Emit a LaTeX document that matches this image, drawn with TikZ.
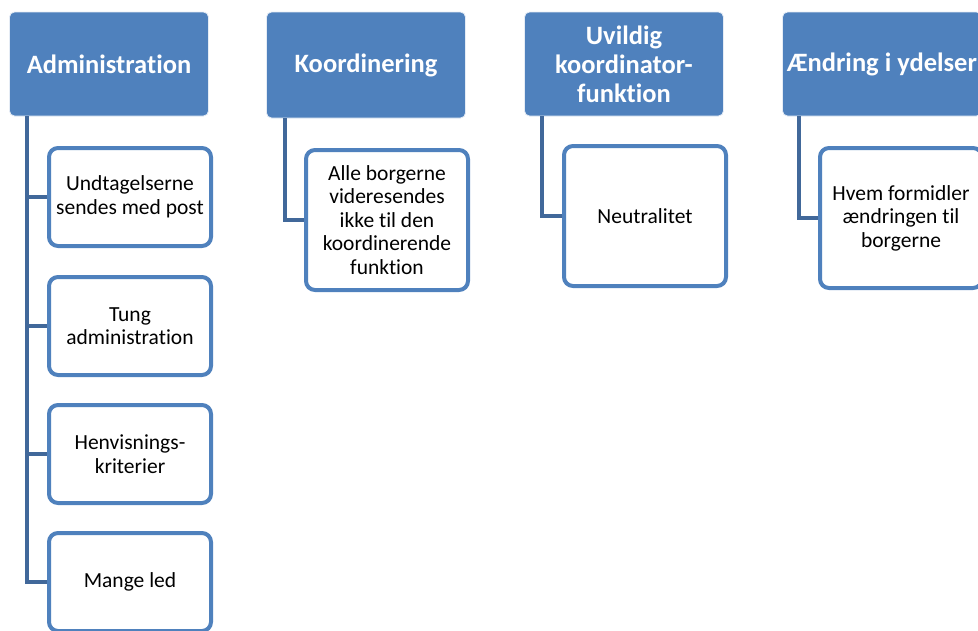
\documentclass[tikz,border=0pt]{standalone}
\usepackage{fontspec}
\setmainfont{Carlito}[Ligatures=CommonOff]
\usetikzlibrary{positioning, calc}
\definecolor{hdrblue}{HTML}{4F81BD}
\definecolor{lnkblue}{HTML}{41689A}
\tikzset{
  hdr/.style={rectangle, rounded corners=5pt, draw=white!85!hdrblue, line width=0.8pt,
              fill=hdrblue, text=white, minimum width=199pt, minimum height=104pt,
              inner sep=2pt, align=center, font=\fontsize{26.5}{29}\selectfont\bfseries},
  itm/.style={rectangle, rounded corners=9pt, draw=hdrblue, line width=4pt, fill=white,
              minimum width=162pt, minimum height=98pt, inner sep=2pt, align=center,
              font=\fontsize{21.5}{23.5}\selectfont},
  tall/.style={minimum height=140pt},
  lnk/.style={draw=lnkblue, line width=4.5pt}
}
\begin{document}
\begin{tikzpicture}[x=1pt, y=-1pt]
  \useasboundingbox (0,0) rectangle (978,630);
  % column headers
  \node[hdr] (adm) at (109,64) {Administration};
  \node[hdr, minimum height=106pt] (koo) at (366,65) {Koordinering};
  \node[hdr] (uvi) at (624,64) {Uvildig\\koordinator-\\funktion};
  \node[hdr] (aen) at (882,64) {Ændring i ydelser};
  % boxes under Administration
  \node[itm] (adm1) at (130,197) {Undtagelserne\\sendes med post};
  \node[itm] (adm2) at (130,326) {Tung\\administration};
  \node[itm] (adm3) at (130,454) {Henvisnings-\\kriterier};
  \node[itm] (adm4) at (130,582) {Mange led};
  % one box under each of the others
  \node[itm, tall] (koo1) at (387,220) {Alle borgerne\\videresendes\\ikke til den\\koordinerende\\funktion};
  \node[itm, tall] (uvi1) at (645,216) {Neutralitet};
  \node[itm, tall] (aen1) at (901,218) {Hvem formidler\\ændringen til\\borgerne};
  % connectors
  \draw[lnk] ($(adm.south west)+(18,0)$) |- (adm4.west);
  \foreach \k in {1,2,3}
    \draw[lnk] ($(adm.south west)+(18,0)$) |- (adm\k.west);
  \draw[lnk] ($(koo.south west)+(19,0)$) |- (koo1.west);
  \draw[lnk] ($(uvi.south west)+(18,0)$) |- (uvi1.west);
  \draw[lnk] ($(aen.south west)+(17,0)$) |- (aen1.west);
\end{tikzpicture}
\end{document}
